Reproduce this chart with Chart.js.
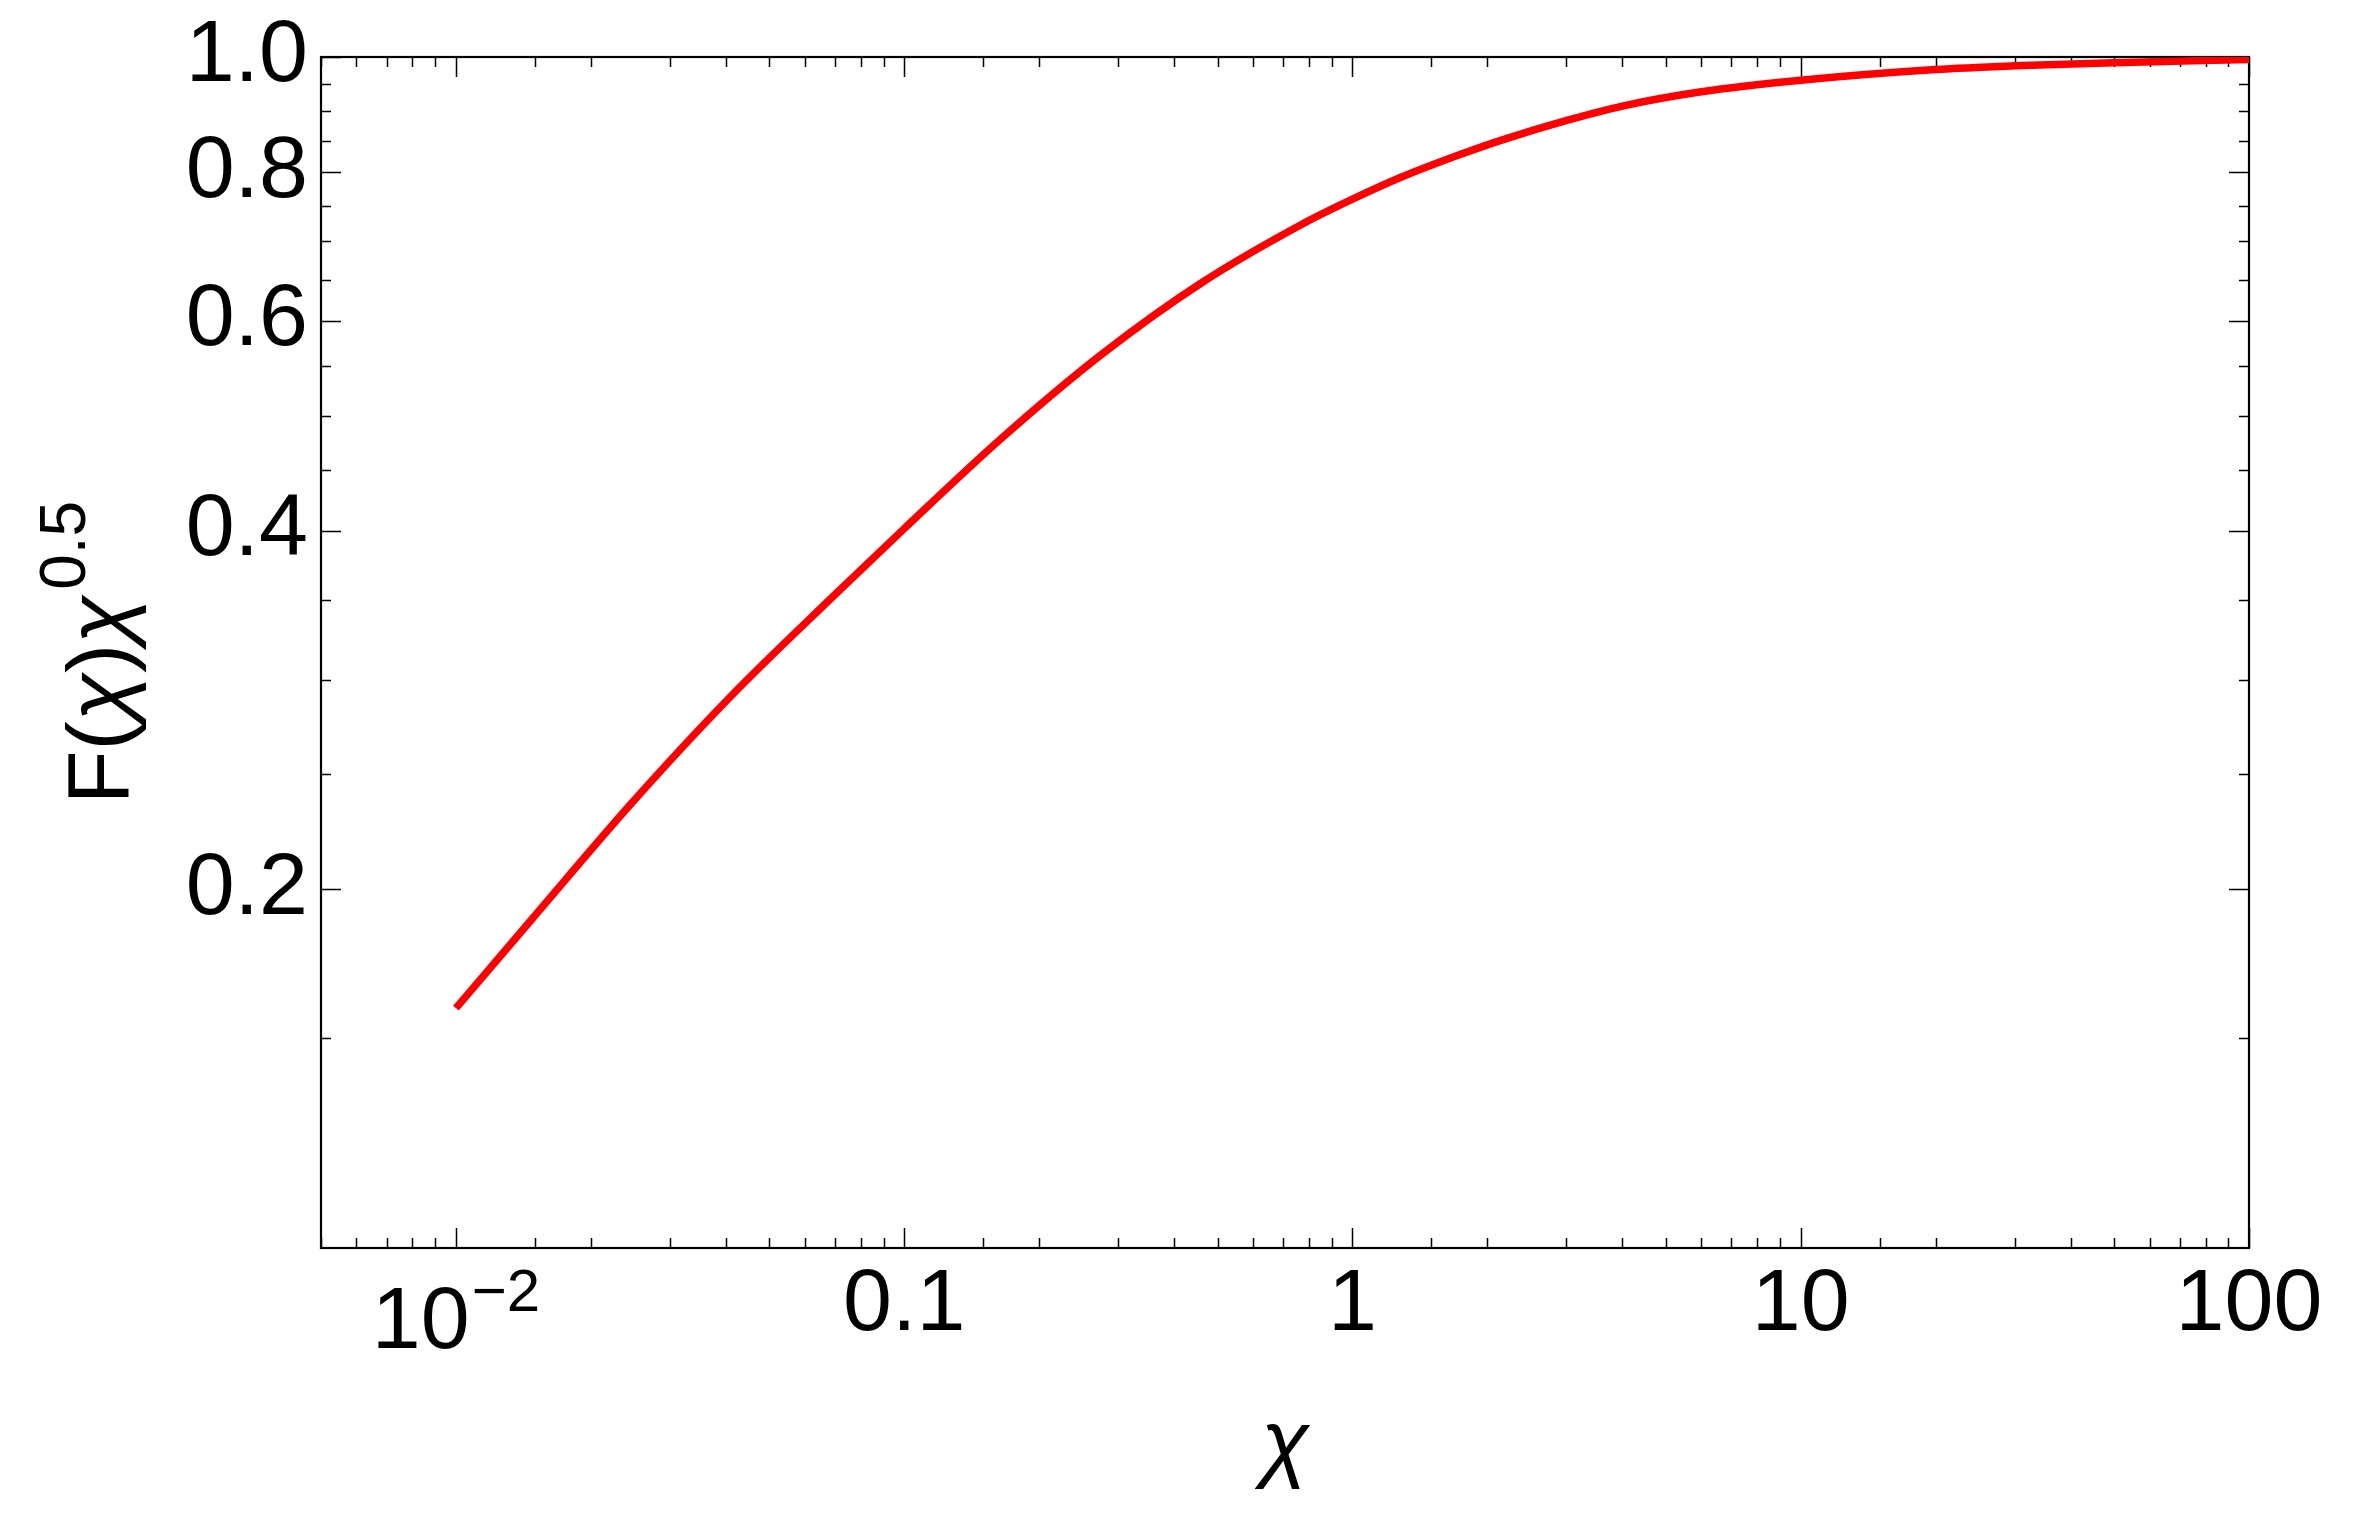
<!DOCTYPE html>
<html><head><meta charset="utf-8">
<script src="https://cdn.jsdelivr.net/npm/chart.js@4.4.1/dist/chart.umd.min.js"></script>
<style>html,body{margin:0;padding:0;background:#fff;}canvas{display:block;}</style>
</head><body>
<canvas id="c" width="2355" height="1535"></canvas>
<script>
// ---- data ----
const chi  = [0.01, 0.0148, 0.0247, 0.0412, 0.0689, 0.1, 0.1644, 0.275, 0.46, 0.768, 1.0, 1.283, 1.75, 2.16, 3.02, 4, 6, 10, 20, 30, 50, 100];
const fChi = [0.159, 0.189, 0.2365, 0.291, 0.3515, 0.4018, 0.478, 0.5623, 0.646, 0.723, 0.7596, 0.7925, 0.8289, 0.852, 0.885, 0.9095, 0.935, 0.956, 0.976, 0.983, 0.989, 0.995];

const xMin = 0.005, xMax = 100;
const yMin = 0.1, yMax = 1.0;
const xMajorTicks = [0.01, 0.1, 1, 10, 100];
const xTickLabels = ['10^-2', '0.1', '1', '10', '100'];
const yTickValues = [0.15, 0.2, 0.25, 0.3, 0.35, 0.4, 0.45, 0.5, 0.55, 0.6, 0.65, 0.7, 0.75, 0.8, 0.85, 0.9, 0.95, 1.0];
const yMajorTicks = [0.2, 0.4, 0.6, 0.8, 1.0];
const yTickLabels = ['0.2', '0.4', '0.6', '0.8', '1.0'];

const FONT = '"Liberation Sans", Arial, sans-serif';
Chart.defaults.color = '#000';

function findIdx(arr, v) {
  for (let i = 0; i < arr.length; i++) if (Math.abs(arr[i] - v) / arr[i] < 1e-6) return i;
  return -1;
}

const framePlugin = {
  id: 'frameTicks',
  beforeDatasetsDraw(chart) {
    const {ctx, chartArea: {left, right, top, bottom}, scales: {x, y}} = chart;
    ctx.save();
    ctx.strokeStyle = '#000';
    ctx.lineWidth = 1.5;
    ctx.beginPath();
    x.ticks.forEach(t => {
      const px = Math.round(x.getPixelForValue(t.value)) + 0.5;
      const L = findIdx(xMajorTicks, t.value) >= 0 ? 20 : 10;
      ctx.moveTo(px, bottom); ctx.lineTo(px, bottom - L);
      ctx.moveTo(px, top); ctx.lineTo(px, top + L);
    });
    y.ticks.forEach(t => {
      const py = Math.round(y.getPixelForValue(t.value)) + 0.5;
      const L = findIdx(yMajorTicks, t.value) >= 0 ? 20 : 10;
      ctx.moveTo(left, py); ctx.lineTo(left + L, py);
      ctx.moveTo(right, py); ctx.lineTo(right - L, py);
    });
    ctx.stroke();
    ctx.lineWidth = 2.2;
    ctx.strokeRect(left, top, right - left, bottom - top);
    ctx.restore();
  },
  afterDraw(chart) {
    const {ctx, chartArea: {top, bottom}, scales: {x}} = chart;
    ctx.save();
    ctx.fillStyle = '#000';
    ctx.textAlign = 'left';
    ctx.textBaseline = 'alphabetic';
    // 10^-2 label with a real superscript
    const i = xTickLabels.indexOf('10^-2');
    const px = x.getPixelForValue(xMajorTicks[i]);
    ctx.font = `88px ${FONT}`;
    const w1 = ctx.measureText('10').width;
    ctx.font = `60px ${FONT}`;
    const w2 = ctx.measureText('\u22122').width;
    const start = px - (w1 + w2 + 2) / 2;
    ctx.font = `88px ${FONT}`;
    ctx.fillText('10', start, bottom + 100);
    ctx.font = `60px ${FONT}`;
    ctx.fillText('\u22122', start + w1 + 2, bottom + 63);

    // y-axis title F(χ)χ^0.5, rotated
    const segs = [
      {t: 'F(', f: `88px ${FONT}`, r: 0},
      {t: '\u03c7', f: `italic 88px ${FONT}`, r: 0},
      {t: ')', f: `88px ${FONT}`, r: 0},
      {t: '\u03c7', f: `italic 88px ${FONT}`, r: 0},
      {t: '0.5', f: `64px ${FONT}`, r: 43, pad: 6}
    ];
    let total = 0;
    segs.forEach(s => { ctx.font = s.f; s.w = ctx.measureText(s.t).width; total += s.w + (s.pad || 0); });
    const cy = (top + bottom) / 2;
    ctx.translate(128, cy);
    ctx.rotate(-Math.PI / 2);
    let cx = -total / 2;
    segs.forEach(s => {
      ctx.font = s.f;
      cx += (s.pad || 0);
      ctx.fillText(s.t, cx, -s.r);
      cx += s.w;
    });
    ctx.restore();
  }
};

const points = chi.map((c, i) => ({x: c, y: fChi[i]}));

new Chart(document.getElementById('c'), {
  type: 'line',
  data: {
    datasets: [{
      data: points,
      borderColor: '#ff0000',
      borderWidth: 7.5,
      pointRadius: 0,
      fill: false,
      cubicInterpolationMode: 'monotone',
      tension: 0.4
    }]
  },
  options: {
    responsive: false,
    animation: false,
    devicePixelRatio: 1,
    events: [],
    layout: {padding: {left: 0, right: 106, top: 57, bottom: 0}},
    plugins: {legend: {display: false}, tooltip: {enabled: false}},
    scales: {
      x: {
        type: 'logarithmic',
        min: xMin, max: xMax,
        grid: {display: false, drawTicks: false},
        border: {display: false},
        ticks: {
          autoSkip: false, maxRotation: 0, minRotation: 0, padding: 5,
          font: {family: FONT, size: 88},
          color: '#000',
          callback: (v) => {
            const i = findIdx(xMajorTicks, v);
            if (i < 0 || xTickLabels[i] === '10^-2') return '';
            return xTickLabels[i];
          }
        },
        title: {
          display: true, text: '\u03c7', color: '#000',
          font: {family: FONT, size: 88, style: 'italic', lineHeight: 1.2},
          padding: {top: 0, bottom: 36}
        },
        afterFit: (s) => { s.height = 287; }
      },
      y: {
        type: 'logarithmic',
        min: yMin, max: yMax,
        grid: {display: false, drawTicks: false},
        border: {display: false},
        afterBuildTicks: (s) => { s.ticks = yTickValues.map(v => ({value: v})); },
        ticks: {
          autoSkip: false, padding: 13,
          font: {family: FONT, size: 88, lineHeight: 0.8},
          color: '#000',
          callback: (v) => {
            const i = findIdx(yMajorTicks, v);
            return i < 0 ? '' : yTickLabels[i];
          }
        },
        afterFit: (s) => { s.width = 321; }
      }
    }
  },
  plugins: [framePlugin]
});
</script>
</body></html>
